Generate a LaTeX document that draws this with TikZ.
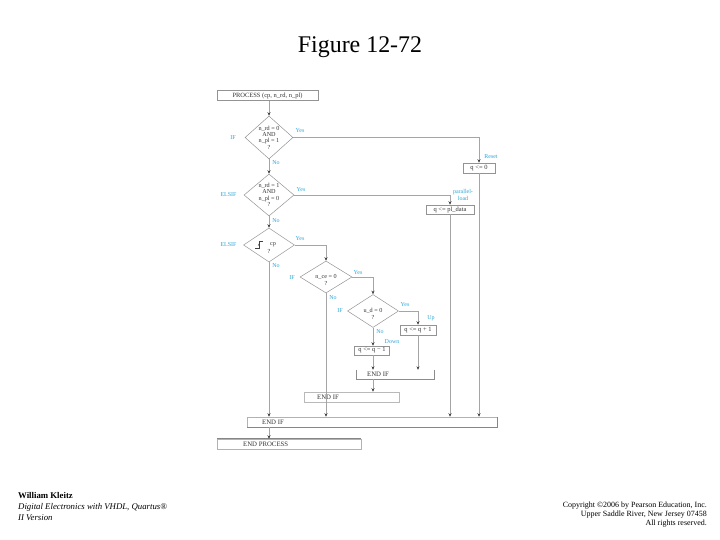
\documentclass[tikz,border=0pt]{standalone}
\usepackage{fontspec}
\setmainfont{Liberation Serif}
\usetikzlibrary{shapes.geometric,arrows.meta}
\definecolor{lblue}{RGB}{45,165,215}
\definecolor{lgray}{RGB}{165,165,165}
\newcommand\myfs[2]{\fontsize{#1}{#2}\selectfont}
\tikzset{
 flow/.style={draw=lgray, line width=0.5bp},
 arr/.style={flow, -{Stealth[length=3.5bp,width=3bp,color=black!75]}},
 box/.style={draw=gray!85, line width=0.5bp, inner sep=0pt, font=\myfs{6.5}{7}, text=black!80},
 dia/.style={diamond, draw=gray!85, line width=0.5bp, inner sep=0pt},
 dtxt/.style={font=\myfs{6.2}{6.4}, align=center, inner sep=0pt, text=black!80},
 lbl/.style={font=\myfs{6}{6.5}, text=lblue, inner sep=0pt, align=center},
 etxt/.style={font=\myfs{6.8}{7}, inner sep=0pt, anchor=west, text=black!80},
 foot/.style={inner sep=0pt, text=black},
}
\begin{document}
\begin{tikzpicture}[x=1bp,y=-1bp]
\useasboundingbox (0,0) rectangle (720,540);
% title
\node[font=\myfs{24}{26}, inner sep=0pt] (title) at (360,47) {Figure 12-72};

% boxes
\node[box, minimum width=101bp, minimum height=10bp] (proc) at (267.5,95.5) {PROCESS (cp, n\_rd, n\_pl)};
\node[box, minimum width=32bp, minimum height=10bp] (reset) at (479,168) {q <= 0};
\node[box, minimum width=48bp, minimum height=9bp] (pl) at (450,209.5) {q <= pl\_data};
\node[box, minimum width=36bp, minimum height=10bp] (up) at (418,330) {q <= q + 1};
\node[box, minimum width=35bp, minimum height=9bp] (down) at (372,350.5) {q <= q − 1};
\node[inner sep=0pt, minimum width=78bp, minimum height=9bp] (endif3) at (395,374.5) {};
\draw[gray!90, line width=0.6bp] (endif3.north west) -- (endif3.south west) -- (endif3.south east) -- (endif3.north east);
\node[etxt] (endif3t) at (367,374.5) {END IF};
\node[box, draw=gray!55, minimum width=95bp, minimum height=10bp] (endif2) at (351.5,397) {};
\node[etxt] (endif2t) at (317,397) {END IF};
\node[box, draw=gray!60, minimum width=250bp, minimum height=10bp] (endif1) at (372,422) {};
\draw[gray!95, line width=0.6bp] (endif1.north east) -- (endif1.south east) -- (endif1.south west);
\node[etxt] (endif1t) at (262,422) {END IF};
\node[box, draw=gray!60, minimum width=144bp, minimum height=10bp] (endproc) at (289,444) {};
\draw[gray!95, line width=0.6bp] (endproc.north west) -- (endproc.north east);
\node[etxt] (endproct) at (243,444) {END PROCESS};

% diamonds
\node[dia, minimum width=48bp, minimum height=43bp] (d1) at (269,137.5) {};
\node[dtxt] (d1t) at (269,137.5) {n\_rd = 0\\AND\\n\_pl = 1\\?};
\node[dia, minimum width=50bp, minimum height=42bp] (d2) at (269,195) {};
\node[dtxt] (d2t) at (269,195) {n\_rd = 1\\AND\\n\_pl = 0\\?};
\node[dia, minimum width=51bp, minimum height=34bp] (d3) at (269,245) {};
\node[dtxt] (d3t) at (273,244.5) {cp};
\node[dtxt] (d3q) at (269,251.5) {?};
\draw[black!75, line width=0.5bp] (255,248.5) -- (259,248.5) -- (259,241) -- (263,241);
\draw[black!75, line width=0.4bp, -{Stealth[length=2.2bp,width=2bp]}] (259,248) -- (259,243.5);
\node[dia, minimum width=52bp, minimum height=32bp] (d4) at (326,277) {};
\node[dtxt] (d4t) at (326,280) {n\_ce = 0\\?};
\node[dia, minimum width=51bp, minimum height=33bp] (d5) at (373,311) {};
\node[dtxt] (d5t) at (373,314) {u\_d = 0\\?};

% connectors
\draw[arr] (proc.south -| d1.north) -- (d1.north);
\draw[arr] (d1.south) -- (d2.north);
\draw[arr] (d2.south) -- (d3.north);
\draw[arr] (d1.east) -| (reset.north);
\draw[arr] (d2.east) -| (pl.north);
\draw[arr] (d3.east) -| (d4.north);
\draw[arr] (d4.east) -| (d5.north);
\draw[arr] (d5.east) -| (up.north);
\draw[arr] (d5.south) -- (d5.south |- down.north);
\draw[arr] (down.south -| d5.south) -- (d5.south |- endif3.north);
\draw[arr] (up.south) -- (up.south |- endif3.north);
\draw[arr] (endif3.south -| d5.south) -- (d5.south |- endif2.north);
\draw[arr] (d3.south) -- (d3.south |- endif1.north);
\draw[arr] (d4.south) -- (d4.south |- endif1.north);
\draw[arr] (pl.south) -- (pl.south |- endif1.north);
\draw[arr] (reset.south) -- (reset.south |- endif1.north);
\draw[arr] (endif1.south -| d3.south) -- (d3.south |- endproc.north);

% labels
\node[lbl] (l1a) at (233,138) {IF};
\node[lbl] (l1y) at (300,131) {Yes};
\node[lbl] (l1n) at (276,163) {No};
\node[lbl] (l2a) at (228.5,195) {ELSIF};
\node[lbl] (l2y) at (301,190) {Yes};
\node[lbl] (l2n) at (276,221) {No};
\node[lbl] (l3a) at (228.5,245) {ELSIF};
\node[lbl] (l3y) at (300,239) {Yes};
\node[lbl] (l3n) at (276,266) {No};
\node[lbl] (l4a) at (292,278) {IF};
\node[lbl] (l4y) at (358,273) {Yes};
\node[lbl] (l4n) at (333,298) {No};
\node[lbl] (l5a) at (340,311) {IF};
\node[lbl] (l5y) at (405,305) {Yes};
\node[lbl] (l5n) at (380,332) {No};
\node[lbl] (lup) at (431,318) {Up};
\node[lbl] (ldown) at (392,342) {Down};
\node[lbl] (lreset) at (491,157) {Reset};
\node[lbl, font=\myfs{6}{6.6}] (lpl) at (463,195) {parallel-\\load};

% footer
\node[foot, anchor=base west, font=\myfs{8.8}{10}\bfseries] (f1) at (18,498) {William Kleitz};
\node[foot, anchor=base west, font=\myfs{8.8}{10}\itshape] (f2) at (18,509) {Digital Electronics with VHDL,  Quartus®};
\node[foot, anchor=base west, font=\myfs{8.8}{10}\itshape] (f3) at (18,520) {II Version};
\node[foot, anchor=base east, font=\myfs{8}{9}] (c1) at (707,507) {Copyright ©2006 by Pearson Education, Inc.};
\node[foot, anchor=base east, font=\myfs{8}{9}] (c2) at (707,516) {Upper Saddle River, New Jersey 07458};
\node[foot, anchor=base east, font=\myfs{8}{9}] (c3) at (707,525) {All rights reserved.};
\end{tikzpicture}
\end{document}
